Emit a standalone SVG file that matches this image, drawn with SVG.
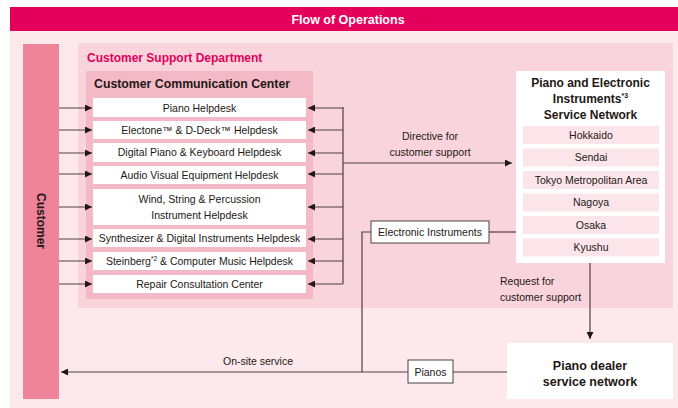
<svg xmlns="http://www.w3.org/2000/svg" width="678" height="408" viewBox="0 0 678 408">
<defs>
<marker id="ah" viewBox="0 0 10 10" refX="10" refY="5" markerWidth="7" markerHeight="7" markerUnits="userSpaceOnUse" orient="auto">
<path d="M0,0 L10,5 L0,10 z" fill="#231815"/>
</marker>
</defs>
<style>
text{font-family:"Liberation Sans",Arial,sans-serif;fill:#231815}
.t{font-size:10.5px;text-anchor:middle}
.b{font-weight:bold}
.box{fill:#ffffff}
.reg{fill:#fce5ea}
.ln{stroke:#4d4040;stroke-width:1.2;fill:none}
.ar{stroke:#4d4040;stroke-width:1.2;fill:none;marker-end:url(#ah)}
.lab{fill:#ffffff;stroke:#4d4040;stroke-width:1}
</style>
<rect x="10" y="31" width="668" height="377" fill="#fde8ec"/>
<g id="title">
<rect x="10" y="7" width="668" height="24" fill="#e4005a"/>
<text x="348" y="23.5" font-size="12.5" class="b" text-anchor="middle" style="fill:#ffffff">Flow of Operations</text>
</g>
<g id="customer">
<rect x="23" y="44" width="36" height="355" fill="#ee8399"/>
<text transform="translate(37,221) rotate(90)" font-size="12" class="b" text-anchor="middle">Customer</text>
</g>
<g id="support-dept">
<rect x="78" y="43" width="595" height="265" fill="#f9d4dc"/>
<text x="87" y="62" font-size="12" class="b" style="fill:#e4005a">Customer Support Department</text>
</g>
<g id="ccc">
<rect x="86" y="71" width="227" height="228" fill="#f4b9c6"/>
<text x="94" y="88" font-size="12.3" class="b">Customer Communication Center</text>
<g id="piano-helpdesk"><rect class="box" x="93" y="98" width="213" height="19"/><text class="t" x="199.5" y="111.5">Piano Helpdesk</text></g>
<g id="electone-helpdesk"><rect class="box" x="93" y="121" width="213" height="18"/><text class="t" x="199.5" y="133.8">Electone™ &amp; D-Deck™ Helpdesk</text></g>
<g id="digital-piano-helpdesk"><rect class="box" x="93" y="143" width="213" height="19"/><text class="t" x="199.5" y="156.3">Digital Piano &amp; Keyboard Helpdesk</text></g>
<g id="av-helpdesk"><rect class="box" x="93" y="166" width="213" height="18"/><text class="t" x="199.5" y="178.8">Audio Visual Equipment Helpdesk</text></g>
<g id="wind-helpdesk"><rect class="box" x="93" y="189" width="213" height="36"/><text class="t" x="199.5" y="203">Wind, String &amp; Percussion</text><text class="t" x="199.5" y="218.5">Instrument Helpdesk</text></g>
<g id="synth-helpdesk"><rect class="box" x="93" y="229" width="213" height="18"/><text class="t" x="199.5" y="241.8">Synthesizer &amp; Digital Instruments Helpdesk</text></g>
<g id="steinberg-helpdesk"><rect class="box" x="93" y="252" width="213" height="18"/><text class="t" x="199.5" y="264.8">Steinberg<tspan font-size="6.5" dy="-4">*2</tspan><tspan dy="4"> &amp; Computer Music Helpdesk</tspan></text></g>
<g id="repair-center"><rect class="box" x="93" y="275" width="213" height="18"/><text class="t" x="199.5" y="287.8">Repair Consultation Center</text></g>
</g>
<g id="service-network">
<rect class="box" x="516" y="71" width="149" height="192"/>
<text x="590.5" y="87" font-size="12" class="b" text-anchor="middle">Piano and Electronic</text>
<text x="590.5" y="103" font-size="12" class="b" text-anchor="middle">Instruments<tspan font-size="7" dy="-5">*3</tspan></text>
<text x="590.5" y="119" font-size="12" class="b" text-anchor="middle">Service Network</text>
<rect class="reg" x="523" y="126" width="136" height="18"/><text class="t" x="591" y="138.8">Hokkaido</text>
<rect class="reg" x="523" y="148.5" width="136" height="18"/><text class="t" x="591" y="161.3">Sendai</text>
<rect class="reg" x="523" y="171" width="136" height="18"/><text class="t" x="591" y="183.8">Tokyo Metropolitan Area</text>
<rect class="reg" x="523" y="193.5" width="136" height="18"/><text class="t" x="591" y="206.3">Nagoya</text>
<rect class="reg" x="523" y="216" width="136" height="18"/><text class="t" x="591" y="228.8">Osaka</text>
<rect class="reg" x="523" y="238.5" width="136" height="18"/><text class="t" x="591" y="251.3">Kyushu</text>
</g>
<g id="dealer-network">
<rect class="box" x="507" y="343" width="166" height="56"/>
<text x="590" y="370" font-size="12.5" class="b" text-anchor="middle">Piano dealer</text>
<text x="590" y="386" font-size="12.5" class="b" text-anchor="middle">service network</text>
</g>
<g id="connectors">
<path class="ar" d="M59,108 H92"/>
<path class="ar" d="M59,130 H92"/>
<path class="ar" d="M59,153 H92"/>
<path class="ar" d="M59,174 H92"/>
<path class="ar" d="M59,207 H92"/>
<path class="ar" d="M59,239 H92"/>
<path class="ar" d="M59,261 H92"/>
<path class="ar" d="M59,284 H92"/>
<path class="ln" d="M343,107 V284"/>
<path class="ar" d="M343,108 H308"/>
<path class="ar" d="M343,130 H308"/>
<path class="ar" d="M343,153 H308"/>
<path class="ar" d="M343,174 H308"/>
<path class="ar" d="M343,207 H308"/>
<path class="ar" d="M343,239 H308"/>
<path class="ar" d="M343,261 H308"/>
<path class="ar" d="M343,284 H308"/>
<path class="ar" d="M343,163 H512"/>
<text class="t" x="430" y="140">Directive for</text>
<text class="t" x="430" y="156">customer support</text>
<path class="ar" d="M590,263 V339"/>
<text x="500" y="285" font-size="10.5">Request for</text>
<text x="500" y="301" font-size="10.5">customer support</text>
<path class="ln" d="M516,232 H489"/>
<path class="ln" d="M371,232 H362 V372"/>
<path class="ar" d="M507,372 H61"/>
<text class="t" x="258" y="365">On-site service</text>
<g id="label-electronic"><rect class="lab" x="371" y="221" width="118" height="22"/><text class="t" x="430" y="235.5">Electronic Instruments</text></g>
<g id="label-pianos"><rect class="lab" x="408" y="360" width="45" height="23"/><text class="t" x="430.5" y="375.5">Pianos</text></g>
</g>
</svg>
